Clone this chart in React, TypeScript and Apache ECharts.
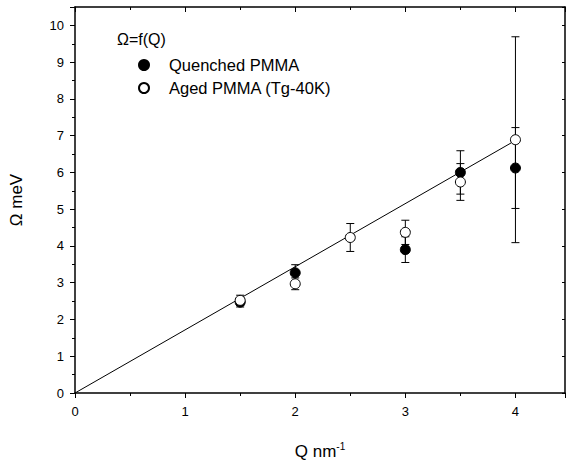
import React, { useEffect, useRef } from "react";
import * as echarts from "echarts";

const quenchedQ = [1.5, 2, 3, 3.5, 4];
const quenchedOmega = [2.47, 3.27, 3.9, 6.0, 6.12];
const quenchedErr = [0.13, 0.22, 0.35, 0.59, 1.1];

const agedQ = [1.5, 2, 2.5, 3, 3.5, 4];
const agedOmega = [2.52, 2.97, 4.23, 4.37, 5.74, 6.89];
const agedErr = [0.14, 0.16, 0.38, 0.33, 0.5, 2.8];

const fitQ = [0, 4];
const fitOmega = [0, 6.87];

const xTicks = [0, 1, 2, 3, 4];
const yTicks = [0, 1, 2, 3, 4, 5, 6, 7, 8, 9, 10];

const FONT = "'Liberation Sans', Arial, Helvetica, sans-serif";

function errorRender(params: any, api: any) {
  const x = api.value(0);
  const lo = api.value(1);
  const hi = api.value(2);
  const pLo = api.coord([x, lo]);
  const pHi = api.coord([x, hi]);
  const cap = 4;
  const style = { stroke: "#000", lineWidth: 1 };
  return {
    type: "group",
    children: [
      { type: "line", shape: { x1: pLo[0], y1: pLo[1], x2: pHi[0], y2: pHi[1] }, style },
      { type: "line", shape: { x1: pLo[0] - cap, y1: pLo[1], x2: pLo[0] + cap, y2: pLo[1] }, style },
      { type: "line", shape: { x1: pHi[0] - cap, y1: pHi[1], x2: pHi[0] + cap, y2: pHi[1] }, style },
    ],
  };
}

export default function App() {
  const ref = useRef<HTMLDivElement>(null);
  useEffect(() => {
    if (!ref.current) return;
    const chart = echarts.init(ref.current, undefined, { renderer: "svg" });
    const errData = [
      ...quenchedQ.map((q, i) => [q, quenchedOmega[i] - quenchedErr[i], quenchedOmega[i] + quenchedErr[i]]),
      ...agedQ.map((q, i) => [q, agedOmega[i] - agedErr[i], agedOmega[i] + agedErr[i]]),
    ];
    const axisLine = { show: true, onZero: false, lineStyle: { color: "#000", width: 1.5 } };
    chart.setOption({
      animation: false,
      backgroundColor: "#fff",
      textStyle: { fontFamily: FONT },
      grid: { left: 75, top: 7, right: 1, bottom: 68, containLabel: false, outerBoundsMode: "none" },
      xAxis: [
        {
          type: "value",
          min: 0,
          max: 4.45,
          interval: 1,
          position: "bottom",
          axisLine,
          splitLine: { show: false },
          axisTick: { show: true, inside: false, length: 5, lineStyle: { color: "#000" } },
          minorTick: { show: true, splitNumber: 2, length: 3, lineStyle: { color: "#000" } },
          axisLabel: {
            color: "#000",
            fontSize: 13,
            fontFamily: FONT,
            margin: 12,
            showMaxLabel: false,
            formatter: (v: number) => (xTicks.includes(v) ? String(v) : ""),
          },
          name: "{a|Q nm}{b|-1}",
          nameLocation: "middle",
          nameGap: 48,
          nameTextStyle: {
            color: "#000",
            fontFamily: FONT,
            rich: {
              a: { fontSize: 17, color: "#000", fontFamily: FONT, lineHeight: 20 },
              b: { fontSize: 10, color: "#000", fontFamily: FONT, verticalAlign: "top", lineHeight: 12 },
            },
          },
        },
        {
          type: "value",
          min: 0,
          max: 4.45,
          interval: 1,
          position: "top",
          axisLine,
          splitLine: { show: false },
          axisTick: { show: true, inside: true, length: 5, lineStyle: { color: "#000" } },
          minorTick: { show: true, splitNumber: 2, length: 3, lineStyle: { color: "#000" } },
          axisLabel: { show: false },
        },
      ],
      yAxis: [
        {
          type: "value",
          min: 0,
          max: 10.5,
          interval: 1,
          position: "left",
          axisLine,
          splitLine: { show: false },
          axisTick: { show: true, inside: false, length: 5, lineStyle: { color: "#000" } },
          minorTick: { show: true, splitNumber: 2, length: 3, lineStyle: { color: "#000" } },
          axisLabel: {
            color: "#000",
            fontSize: 13,
            fontFamily: FONT,
            margin: 11,
            showMaxLabel: false,
            formatter: (v: number) => (yTicks.includes(v) ? String(v) : ""),
          },
          name: "Ω meV",
          nameLocation: "middle",
          nameGap: 50,
          nameTextStyle: { color: "#000", fontSize: 17, fontFamily: FONT },
        },
        {
          type: "value",
          min: 0,
          max: 10.5,
          interval: 1,
          position: "right",
          axisLine,
          splitLine: { show: false },
          axisTick: { show: true, inside: true, length: 3, lineStyle: { color: "#000" } },
          axisLabel: { show: false },
        },
      ],
      legend: {
        orient: "vertical",
        left: 133,
        top: 51,
        itemWidth: 40,
        itemHeight: 10,
        itemGap: 5,
        data: ["Quenched PMMA", "Aged PMMA (Tg-40K)"],
        textStyle: { color: "#000", fontSize: 16.5, fontFamily: FONT, lineHeight: 18 },
      },
      graphic: [
        {
          type: "text",
          left: 117,
          top: 31,
          style: { text: "Ω=f(Q)", fill: "#000", fontSize: 16, fontFamily: FONT },
        },
      ],
      series: [
        {
          name: "fit",
          type: "line",
          data: fitQ.map((q, i) => [q, fitOmega[i]]),
          showSymbol: false,
          lineStyle: { color: "#000", width: 1 },
          z: 1,
        },
        {
          name: "errors",
          type: "custom",
          renderItem: errorRender,
          data: errData,
          z: 2,
        },
        {
          name: "Quenched PMMA",
          type: "scatter",
          data: quenchedQ.map((q, i) => [q, quenchedOmega[i]]),
          symbol: "circle",
          symbolSize: 10,
          itemStyle: { color: "#000", borderColor: "#000", borderWidth: 1, opacity: 1 },
          z: 3,
        },
        {
          name: "Aged PMMA (Tg-40K)",
          type: "scatter",
          data: agedQ.map((q, i) => [q, agedOmega[i]]),
          symbol: "circle",
          symbolSize: 10,
          itemStyle: { color: "#fff", borderColor: "#000", borderWidth: 1, opacity: 1 },
          z: 4,
        },
      ],
    });
    return () => chart.dispose();
  }, []);
  return <div ref={ref} style={{ width: 566, height: 461, position: "absolute", left: 0, top: 0 }} />;
}
